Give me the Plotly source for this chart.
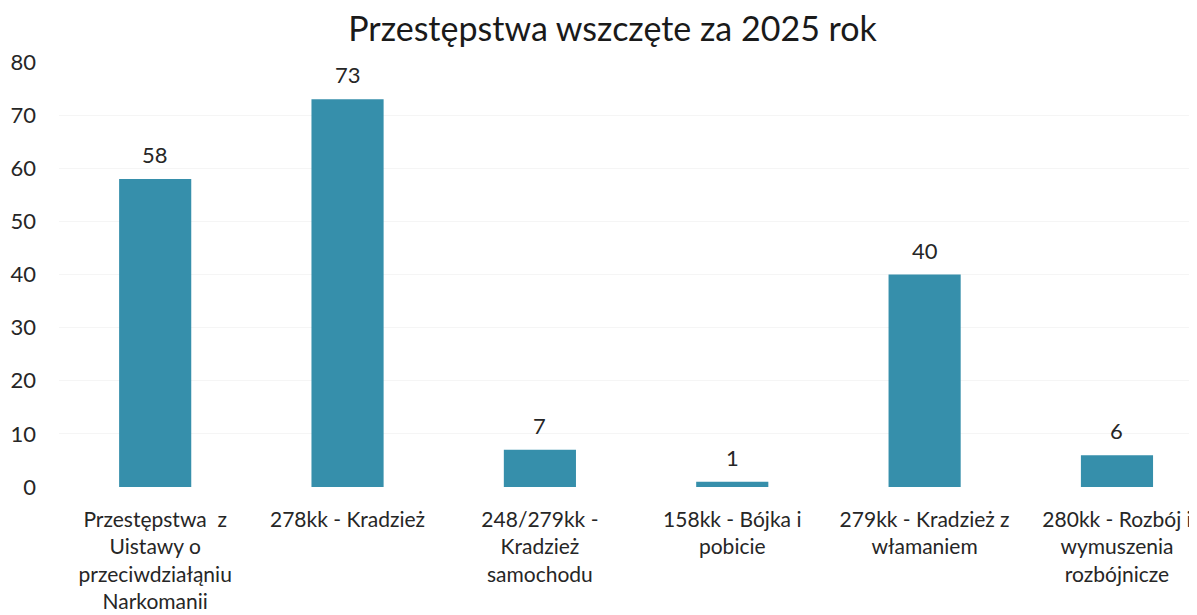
import plotly.graph_objects as go

categories = [
    "Przestępstwa  z<br>Uistawy o<br>przeciwdziałąniu<br>Narkomanii",
    "278kk - Kradzież",
    "248/279kk -<br>Kradzież<br>samochodu",
    "158kk - Bójka i<br>pobicie",
    "279kk - Kradzież z<br>włamaniem",
    "280kk - Rozbój i<br>wymuszenia<br>rozbójnicze",
]
values = [58, 73, 7, 1, 40, 6]
value_labels = ["58", "73", "7", "1", "40", "6"]

FONT = "Lato, Open Sans, sans-serif"
BAR = "#368fab"

fig = go.Figure(
    go.Bar(
        x=list(range(len(categories))),
        y=values,
        marker=dict(color=BAR, line=dict(width=0)),
        width=0.375,
        hoverinfo="y",
    )
)

for i, (v, lab) in enumerate(zip(values, value_labels)):
    fig.add_annotation(
        x=i, y=v, text=lab, showarrow=False, yanchor="bottom", yshift=9,
        font=dict(size=22, color="#262626", family=FONT),
    )

# page body has an 8px margin, so the figure is shifted up/left by that much
fig.update_layout(
    width=1197,
    height=615,
    margin=dict(l=51, r=8, t=54, b=136),
    paper_bgcolor="white",
    plot_bgcolor="white",
    showlegend=False,
    font=dict(family=FONT, color="#262626", size=21),
    title=dict(
        text="Przestępstwa wszczęte za 2025 rok",
        x=0.505, xanchor="center", y=0.966, yanchor="middle",
        font=dict(size=34, color="#1a1a1a", family=FONT),
    ),
)

fig.update_xaxes(
    tickmode="array",
    tickvals=list(range(len(categories))),
    ticktext=categories,
    range=[-0.5, 5.416],
    showgrid=False,
    zeroline=False,
    showline=False,
    ticks="",
    tickangle=0,
    automargin=False,
    ticklabelstandoff=18,
    tickfont=dict(size=21, color="#262626"),
)
fig.update_yaxes(
    range=[0, 80],
    dtick=10,
    showgrid=True,
    gridcolor="#f5f5f5",
    gridwidth=1,
    zeroline=False,
    showline=False,
    ticks="",
    automargin=False,
    ticklabelstandoff=22,
    tickfont=dict(size=22, color="#262626"),
)

fig.write_html("out.html")
